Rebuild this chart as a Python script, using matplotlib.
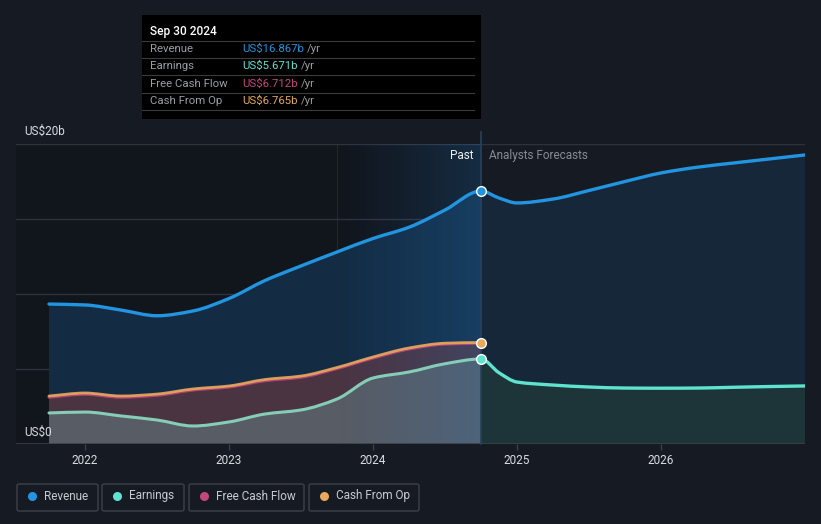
import matplotlib
matplotlib.use("Agg")
import matplotlib.pyplot as plt
import numpy as np
from matplotlib.patches import Rectangle, FancyBboxPatch, PathPatch
from matplotlib.path import Path
from matplotlib.colors import LinearSegmentedColormap

plt.rcParams['font.family'] = ['Roboto', 'DejaVu Sans']

# ---------------- data (US$ billions) ----------------
past_t = [2021.75, 2022.0, 2022.25, 2022.5, 2022.75, 2023.0, 2023.25, 2023.5,
          2023.75, 2024.0, 2024.25, 2024.5, 2024.75]
rev_past = [9.33, 9.27, 8.93, 8.55, 8.87, 9.70, 10.90, 11.87, 12.80, 13.70, 14.45, 15.60, 16.867]
earn_past = [2.07, 2.13, 1.87, 1.60, 1.20, 1.47, 2.00, 2.27, 3.00, 4.40, 4.80, 5.35, 5.671]
cfo_past = [3.20, 3.40, 3.20, 3.33, 3.67, 3.87, 4.30, 4.53, 5.10, 5.80, 6.40, 6.72, 6.765]
fcf_past = [3.12, 3.32, 3.12, 3.25, 3.60, 3.80, 4.22, 4.45, 5.03, 5.73, 6.33, 6.66, 6.712]

fc_t = [2024.75, 2024.875, 2025.0, 2025.25, 2025.5, 2025.75, 2026.0, 2026.25, 2026.5, 2026.75, 2027.0]
rev_fc = [16.867, 16.40, 16.07, 16.33, 16.90, 17.50, 18.07, 18.45, 18.73, 19.00, 19.27]
earn_fc = [5.671, 4.75, 4.13, 3.93, 3.80, 3.73, 3.72, 3.73, 3.78, 3.83, 3.87]

years = [2022, 2023, 2024, 2025, 2026]
year_labels = ["2022", "2023", "2024", "2025", "2026"]

tooltip_date = "Sep 30 2024"
tooltip_rows = ["Revenue", "Earnings", "Free Cash Flow", "Cash From Op"]
tooltip_vals = ["US$16.867b", "US$5.671b", "US$6.712b", "US$6.765b"]
legend_labels = ["Revenue", "Earnings", "Free Cash Flow", "Cash From Op"]

C_REV = "#2394df"
C_EARN = "#5fe3cf"
C_FCF = "#c4467e"
C_CFO = "#e8a95c"
BG = "#151a23"

W, H = 821, 524
fig = plt.figure(figsize=(W / 100, H / 100), dpi=100)
fig.patch.set_facecolor(BG)


def fx(px):
    return px / W


def fy(py):
    return 1 - py / H


def smooth_path(xs, ys, close=False, flat_start=False, flat_end=False):
    """Bezier path through the data points (monotone-ish tangents)."""
    xs = np.asarray(xs, float)
    ys = np.asarray(ys, float)
    n = len(xs)
    m = np.zeros(n)
    d = np.diff(ys) / np.diff(xs)
    m[0], m[-1] = d[0], d[-1]
    for i in range(1, n - 1):
        if d[i - 1] * d[i] <= 0:
            m[i] = 0.0
        else:
            m[i] = 2.0 / (1.0 / d[i - 1] + 1.0 / d[i])
    if flat_start:
        m[0] = 0.0
    if flat_end:
        m[-1] = 0.0
    verts = [(xs[0], ys[0])]
    codes = [Path.MOVETO]
    for i in range(n - 1):
        h = xs[i + 1] - xs[i]
        verts += [(xs[i] + h / 3, ys[i] + m[i] * h / 3),
                  (xs[i + 1] - h / 3, ys[i + 1] - m[i + 1] * h / 3),
                  (xs[i + 1], ys[i + 1])]
        codes += [Path.CURVE4] * 3
    if close:
        verts += [(xs[-1], 0), (xs[0], 0), (xs[0], ys[0])]
        codes += [Path.LINETO, Path.LINETO, Path.CLOSEPOLY]
    return Path(verts, codes)


def smooth_line(ax, xs, ys, color, lw, z, alpha=1.0, **kw):
    ax.add_patch(PathPatch(smooth_path(xs, ys, **kw), facecolor="none", edgecolor=color,
                           lw=lw, zorder=z, alpha=alpha, capstyle="round"))


def smooth_fill(ax, xs, ys, color, z, **kw):
    ax.add_patch(PathPatch(smooth_path(xs, ys, close=True, **kw), facecolor=color,
                           edgecolor="none", lw=0, zorder=z))


ax = fig.add_axes([fx(16), fy(444), fx(805) - fx(16), fy(144) - fy(444)])
ax.set_facecolor(BG)
x1 = 2027.0
x0 = x1 - (805 - 16) / 144.0
ax.set_xlim(x0, x1)
ax.set_ylim(0, 20)
for s in ax.spines.values():
    s.set_visible(False)

split = past_t[-1]

# darker past background
ax.axvspan(x0, split, color="#11151c", zorder=0, lw=0)
ax.axvline(2023.75, color="#1e2a38", lw=0.8, zorder=0.5)

# gridlines
for g in [5, 10, 15, 20]:
    ax.axhline(g, color="#2d333e", lw=1, zorder=1)

# revenue fills
smooth_fill(ax, past_t, rev_past, "#132c44", 2, flat_end=True)
smooth_fill(ax, fc_t, rev_fc, "#162739", 2, flat_start=True)

# cash flow fill (past)
smooth_fill(ax, past_t, cfo_past, "#4a3442", 3, flat_end=True)
# earnings fills
smooth_fill(ax, past_t, earn_past, "#585c64", 3.1, flat_end=True)
smooth_fill(ax, fc_t, earn_fc, "#1d3439", 3.1, flat_start=True)

# gradient highlight band for last year of past
cmap = LinearSegmentedColormap.from_list(
    "band", [(0.15, 0.45, 0.75, 0.0), (0.15, 0.5, 0.8, 0.22)])
grad = np.linspace(0, 1, 256).reshape(1, -1)
ax.imshow(grad, extent=[2023.75, split, 0, 20], aspect="auto", cmap=cmap,
          zorder=4, interpolation="bilinear")
ax.plot([split, split], [0, 20.8], color="#27425e", lw=1.2, zorder=5, clip_on=False)
ax.axhline(0, color="#3a404b", lw=1.2, zorder=6)

# lines
smooth_line(ax, past_t, rev_past, C_REV, 2.4, 7, flat_end=True)
smooth_line(ax, fc_t, rev_fc, C_REV, 2.4, 7, flat_start=True)
smooth_line(ax, past_t, fcf_past, C_FCF, 2.2, 7, alpha=0.85, flat_end=True)
smooth_line(ax, past_t, cfo_past, C_CFO, 2.0, 7.1, alpha=0.9, flat_end=True)
smooth_line(ax, past_t, earn_past, "#86cdb8", 2.2, 7, flat_end=True)
smooth_line(ax, fc_t, earn_fc, C_EARN, 2.4, 7, flat_start=True)

# markers at the split
for v, c in [(rev_past[-1], C_REV), (cfo_past[-1], C_CFO), (earn_past[-1], C_EARN)]:
    ax.plot([split], [v], marker="o", ms=7, mfc=c, mec="white", mew=1.0, zorder=9)

# x ticks
ax.set_xticks(years)
ax.set_xticklabels(year_labels)
ax.tick_params(axis="x", colors="#3a404b", length=4, width=1, labelcolor="#d9dce1",
               labelsize=8.5, pad=3)
ax.set_yticks([])

# y labels
fig.text(fx(24), fy(131), "US$20b", color="#d9dce1", fontsize=8.5, va="center", ha="left")
fig.text(fx(24), fy(432), "US$0", color="#d9dce1", fontsize=8.5, va="center", ha="left",
         zorder=10)

# Past / forecast labels
fig.text(fx(473), fy(156), "Past", color="#eef0f2", fontsize=8.5, va="center", ha="right")
fig.text(fx(489), fy(156), "Analysts Forecasts", color="#868b94", fontsize=8.5,
         va="center", ha="left")

# tooltip
tip = Rectangle((fx(142), fy(119)), fx(481) - fx(142), fy(15) - fy(119),
                transform=fig.transFigure, facecolor="#000000", edgecolor="none", zorder=20)
fig.patches.append(tip)
fig.text(fx(150), fy(31), tooltip_date, color="#ffffff", fontsize=8.6, va="center",
         ha="left", zorder=21, fontweight="medium")
row_y = [49, 66, 84, 101]
sep_y = [41, 58, 75, 93, 110]
for yy in sep_y:
    fig.add_artist(plt.Line2D([fx(142), fx(474)], [fy(yy), fy(yy)], color="#3b3b3b",
                              lw=0.8, transform=fig.transFigure, zorder=21))
val_colors = [C_REV, C_EARN, C_FCF, C_CFO]
val_texts = []
for yy, lab, val, c in zip(row_y, tooltip_rows, tooltip_vals, val_colors):
    fig.text(fx(150), fy(yy), lab, color="#9a9ea5", fontsize=8.2, va="center", ha="left", zorder=22)
    val_texts.append(fig.text(fx(242), fy(yy), val, color=c, fontsize=8.2, va="center",
                              ha="left", zorder=22))
fig.canvas.draw()
renderer = fig.canvas.get_renderer()
for txt in val_texts:
    bb = txt.get_window_extent(renderer)
    fig.text(bb.x1 / W + fx(3), txt.get_position()[1], "/yr", color="#9a9ea5",
             fontsize=8.2, va="center", ha="left", zorder=22)

# legend boxes
boxes = [(17, 98), (102, 184), (189, 304), (309, 419)]
for (bx0, bx1), lab, c in zip(boxes, legend_labels, val_colors):
    p = FancyBboxPatch((fx(bx0), fy(511)), fx(bx1) - fx(bx0), fy(484) - fy(511),
                       boxstyle="round,pad=0,rounding_size=0.003",
                       transform=fig.transFigure, facecolor="none",
                       edgecolor="#3c414b", lw=1.0)
    fig.patches.append(p)
    fig.add_artist(plt.Line2D([fx(bx0 + 15)], [fy(496)], marker="o", ms=6.5, color=c,
                              mec="none", transform=fig.transFigure))
    fig.text(fx(bx0 + 27), fy(496), lab, color="#c9ccd1", fontsize=8.5, va="center", ha="left")

fig.savefig("out.png", dpi=100, facecolor=BG)
